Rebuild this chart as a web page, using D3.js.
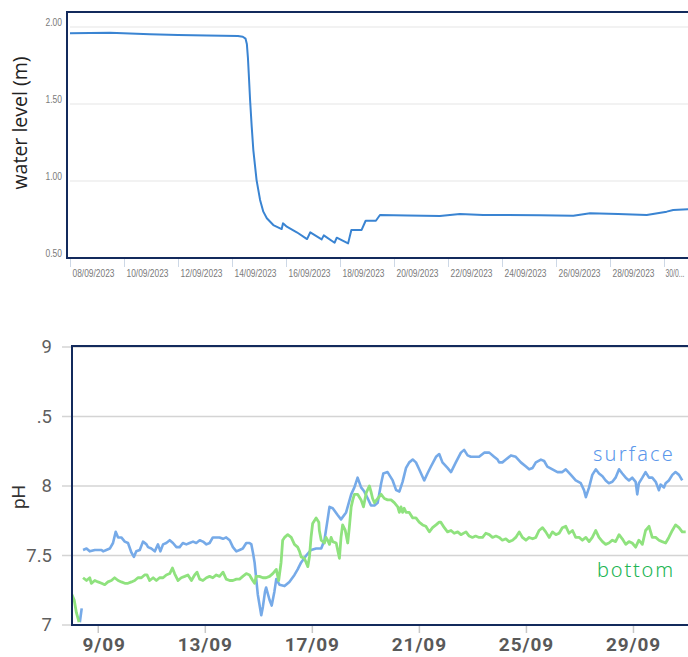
<!DOCTYPE html>
<html><head><meta charset="utf-8">
<script src="https://cdn.jsdelivr.net/npm/d3@7"></script>
<style>
html,body{margin:0;padding:0;background:#fff;}
svg{display:block;}
</style></head>
<body>
<svg id="c" width="688" height="657"></svg>
<script>
// ---------- DATA (day of September 2023, fractional) ----------
const waterDays  = [8.00,9.48,10.96,12.00,13.07,14.22,14.40,14.50,14.55,14.59,14.62,14.67,14.73,14.79,14.91,15.04,15.16,15.29,15.53,15.84,15.89,16.03,16.40,16.78,16.90,17.32,17.40,17.80,17.88,18.30,18.42,18.80,18.95,19.33,19.48,20.50,21.70,22.44,23.30,24.17,25.40,26.64,27.26,28.30,29.36,30.10,30.34,30.89];
const waterLevel = [1.959,1.963,1.953,1.948,1.944,1.942,1.937,1.925,1.890,1.800,1.700,1.526,1.353,1.201,1.006,0.877,0.801,0.758,0.714,0.688,0.725,0.703,0.667,0.623,0.667,0.621,0.647,0.599,0.632,0.595,0.682,0.682,0.742,0.742,0.779,0.776,0.773,0.786,0.780,0.779,0.777,0.775,0.790,0.785,0.779,0.801,0.812,0.816];
const waterTickLabels = ["08/09/2023","10/09/2023","12/09/2023","14/09/2023","16/09/2023","18/09/2023","20/09/2023","22/09/2023","24/09/2023","26/09/2023","28/09/2023","30/0..."];
const waterYTicks = [0.5,1.0,1.5,2.0];
const waterYLabels = ["0.50","1.00","1.50","2.00"];

const surfaceDays = [8.33,8.40,8.42,8.45,8.58,8.70,8.89,9.14,9.20,9.32,9.45,9.57,9.67,9.76,9.88,10.01,10.13,10.26,10.35,10.44,10.57,10.69,10.82,10.88,11.00,11.13,11.25,11.34,11.44,11.56,11.69,11.81,11.94,12.06,12.18,12.31,12.43,12.56,12.68,12.81,12.93,13.06,13.18,13.30,13.43,13.55,13.68,13.80,13.93,14.05,14.18,14.30,14.42,14.55,14.67,14.74,14.80,14.86,14.98,15.11,15.17,15.25,15.29,15.42,15.50,15.60,15.67,15.79,15.98,16.16,16.35,16.47,16.60,16.79,16.97,17.16,17.35,17.47,17.59,17.66,17.78,17.97,18.09,18.28,18.47,18.59,18.71,18.84,18.96,19.09,19.21,19.34,19.46,19.59,19.67,19.83,20.02,20.15,20.27,20.39,20.52,20.64,20.77,20.89,21.01,21.20,21.32,21.45,21.64,21.76,21.88,22.07,22.20,22.38,22.57,22.69,22.82,22.94,23.07,23.25,23.44,23.63,23.81,23.94,24.00,24.12,24.25,24.44,24.62,24.81,25.00,25.12,25.25,25.37,25.56,25.68,25.80,25.99,26.18,26.36,26.49,26.68,26.86,27.05,27.17,27.24,27.36,27.48,27.61,27.73,27.86,27.98,28.10,28.23,28.35,28.48,28.60,28.73,28.85,28.97,29.10,29.16,29.22,29.35,29.47,29.60,29.72,29.85,29.97,30.03,30.16,30.22,30.34,30.47,30.59,30.72,30.84];
const surfaceValues = [7.02,7.12,null,7.54,7.55,7.53,7.54,7.54,7.53,7.54,7.55,7.59,7.67,7.63,7.63,7.60,7.59,7.52,7.49,7.53,7.54,7.60,7.58,7.56,7.55,7.53,7.58,7.53,7.58,7.59,7.61,7.59,7.56,7.56,7.59,7.58,7.59,7.60,7.59,7.61,7.60,7.58,7.59,7.63,7.63,7.63,7.62,7.63,7.61,7.56,7.53,7.54,7.55,7.59,7.59,7.58,7.52,7.45,7.22,7.07,7.13,7.24,7.27,7.18,7.14,7.24,7.33,7.29,7.28,7.31,7.36,7.40,7.45,7.50,7.54,7.55,7.55,7.61,7.76,7.85,7.84,7.79,7.76,7.81,7.94,7.99,8.06,7.99,7.96,7.91,7.86,7.86,7.88,8.02,8.09,8.10,8.04,7.97,7.96,8.03,8.13,8.17,8.19,8.17,8.12,8.04,8.09,8.14,8.21,8.23,8.17,8.13,8.10,8.17,8.24,8.26,8.22,8.21,8.21,8.21,8.24,8.24,8.21,8.19,8.17,8.17,8.19,8.22,8.21,8.17,8.14,8.12,8.13,8.17,8.19,8.18,8.14,8.12,8.10,8.10,8.12,8.08,8.04,8.02,7.97,7.92,7.99,8.08,8.12,8.09,8.07,8.04,8.02,8.03,8.06,8.12,8.09,8.06,8.04,8.06,8.03,7.94,8.02,8.06,8.10,8.06,8.06,8.03,7.97,8.01,7.99,8.02,8.04,8.08,8.10,8.08,8.04];

const bottomDays = [8.03,8.12,8.20,8.30,8.40,8.45,8.58,8.70,8.76,8.89,9.01,9.14,9.26,9.38,9.51,9.63,9.76,9.88,10.01,10.13,10.26,10.38,10.50,10.63,10.75,10.84,10.94,11.07,11.19,11.31,11.44,11.56,11.69,11.79,11.87,12.00,12.12,12.25,12.37,12.50,12.62,12.71,12.81,12.93,13.06,13.18,13.30,13.43,13.55,13.68,13.80,13.93,14.05,14.18,14.30,14.42,14.55,14.67,14.79,14.86,14.92,15.04,15.17,15.29,15.42,15.54,15.67,15.76,15.85,15.91,15.98,16.10,16.23,16.35,16.47,16.54,16.60,16.72,16.85,16.91,16.97,17.03,17.16,17.26,17.28,17.35,17.47,17.53,17.59,17.66,17.72,17.78,17.91,18.03,18.09,18.15,18.25,18.34,18.40,18.47,18.53,18.59,18.71,18.84,18.93,19.03,19.15,19.21,19.27,19.34,19.46,19.59,19.71,19.83,19.96,20.08,20.21,20.27,20.33,20.39,20.45,20.52,20.64,20.77,20.89,21.01,21.14,21.26,21.39,21.51,21.64,21.76,21.82,21.95,22.07,22.20,22.32,22.45,22.57,22.76,22.88,23.00,23.12,23.25,23.38,23.50,23.63,23.75,23.88,24.00,24.12,24.25,24.37,24.50,24.62,24.75,24.87,25.00,25.12,25.25,25.37,25.49,25.62,25.74,25.87,25.99,26.12,26.24,26.36,26.49,26.61,26.74,26.86,26.99,27.11,27.24,27.36,27.48,27.61,27.73,27.86,27.98,28.10,28.23,28.35,28.48,28.60,28.73,28.85,28.97,29.10,29.22,29.35,29.47,29.60,29.72,29.85,29.97,30.09,30.22,30.34,30.47,30.59,30.72,30.84,30.97];
const bottomValues = [7.22,7.18,7.09,7.02,null,7.34,7.32,7.34,7.30,7.32,7.31,7.30,7.29,7.31,7.32,7.34,7.32,7.31,7.30,7.30,7.31,7.32,7.34,7.34,7.36,7.36,7.32,7.34,7.32,7.34,7.34,7.36,7.37,7.41,7.37,7.32,7.34,7.35,7.36,7.32,7.36,7.38,7.33,7.32,7.34,7.35,7.34,7.36,7.35,7.38,7.33,7.32,7.32,7.33,7.33,7.35,7.37,7.36,7.32,7.30,7.35,7.35,7.34,7.34,7.35,7.37,7.40,7.32,7.45,7.61,7.63,7.65,7.63,7.58,7.56,7.53,7.49,7.48,7.42,7.49,7.63,7.73,7.77,7.74,7.68,7.61,7.59,7.63,7.61,7.58,7.63,7.60,7.59,7.48,7.63,7.72,7.68,7.59,7.70,7.85,7.90,7.94,7.94,7.90,7.85,7.95,8.00,7.96,7.91,7.88,7.91,7.94,7.91,7.90,7.90,7.88,7.85,7.81,7.85,7.81,7.84,7.81,7.81,7.77,7.77,7.74,7.72,7.71,7.67,7.70,7.72,7.74,7.74,7.70,7.67,7.68,7.66,7.67,7.65,7.67,7.64,7.63,7.64,7.63,7.63,7.66,7.65,7.63,7.64,7.63,7.61,7.62,7.60,7.61,7.63,7.67,7.63,7.61,7.63,7.62,7.63,7.68,7.70,7.67,7.63,7.67,7.65,7.66,7.70,7.71,7.66,7.68,7.63,7.63,7.61,7.63,7.60,7.63,7.68,7.63,7.60,7.58,7.59,7.61,7.60,7.65,7.62,7.58,7.60,7.59,7.56,7.61,7.58,7.68,7.71,7.63,7.63,7.61,7.60,7.59,7.63,7.68,7.72,7.70,7.67,7.67];

const phYTicks = [7,7.5,8,8.5,9];
const phYLabels = ["7","7.5","8",".5","9"];
const phXTickDays = [9,13,17,21,25,29];
const phXLabels = ["09/09","13/09","17/09","21/09","25/09","29/09"];
const seriesNames = ["surface","bottom"];

// ---------- HELPERS ----------
const toDate = d => new Date(Date.UTC(2023,8,1) + (d-1)*864e5);
const zip = (xs, ys) => xs.map((x,i)=>({t:toDate(x), v:ys[i]}));
const svg = d3.select("#c");
const NAVY = "#132a5c";
const SMALL = "'Liberation Sans',Arial,sans-serif";

// ================= TOP CHART: water level =================
const xTop = d3.scaleUtc().domain([toDate(8), toDate(31)]).range([70, 691]);
const yTop = d3.scaleLinear().domain([0.5, 2.0]).range([258, 27]);
const gTop = svg.append("g");

gTop.append("g").selectAll("line").data([1.0,1.5,2.0]).join("line")
  .attr("x1",70).attr("x2",688).attr("y1",d=>yTop(d)).attr("y2",d=>yTop(d))
  .attr("stroke","#e6e6e6").attr("stroke-width",1.2);

const yAxTop = gTop.append("g").attr("transform","translate(67,0)")
  .call(d3.axisLeft(yTop).tickValues(waterYTicks).tickSize(0).tickPadding(5)
    .tickFormat((d,i)=>waterYLabels[i]));
yAxTop.select(".domain").remove();
yAxTop.selectAll("text").attr("dy","-0.2em")
  .attr("font-family",SMALL).attr("font-size",10).attr("fill","#7a7a7a")
  .attr("textLength",16.5).attr("lengthAdjust","spacingAndGlyphs");

const xAxTop = gTop.append("g").attr("transform","translate(0,259)")
  .call(d3.axisBottom(xTop).tickValues(d3.range(8,31,2).map(toDate)).tickSize(8)
    .tickFormat((d,i)=>waterTickLabels[i]));
xAxTop.select(".domain").remove();
xAxTop.selectAll("line").attr("stroke","#cdd8e6");
const lastTop = waterTickLabels.length-1;
xAxTop.selectAll("text").attr("text-anchor","start").attr("x",(d,i)=> i===lastTop ? 1 : 2).attr("y",11)
  .attr("font-family",SMALL).attr("font-size",10.5).attr("fill","#7a7a7a")
  .attr("textLength",(d,i)=> i===lastTop ? 19 : 42)
  .attr("lengthAdjust","spacingAndGlyphs");

gTop.append("path").datum(zip(waterDays, waterLevel))
  .attr("fill","none").attr("stroke","#3a84d2").attr("stroke-width",2).attr("stroke-linejoin","round")
  .attr("d", d3.line().x(d=>xTop(d.t)).y(d=>yTop(d.v)));

gTop.append("path").attr("d","M688,12 H67 V258 H688").attr("fill","none")
  .attr("stroke",NAVY).attr("stroke-width",2);

gTop.append("text").attr("transform","translate(27,123) rotate(-90)")
  .attr("text-anchor","middle").attr("font-family","'Open Sans',sans-serif")
  .attr("font-size",19.5).attr("fill","#222").text("water level (m)");

// ================= BOTTOM CHART: pH =================
const xPh = d3.scaleUtc().domain([toDate(8), toDate(31)]).range([71, 686.5]);
const yPh = d3.scaleLinear().domain([7, 9]).range([625, 347]);
const gBot = svg.append("g");

gBot.append("clipPath").attr("id","plotclip").append("rect")
  .attr("x",72).attr("y",346).attr("width",616).attr("height",279);
gBot.append("clipPath").attr("id","labclip").append("rect")
  .attr("x",82 - xPh(toDate(9))).attr("y",-10).attr("width",100).attr("height",42);

gBot.append("g").selectAll("line").data(phYTicks).join("line")
  .attr("x1",62).attr("x2",688).attr("y1",d=>yPh(d)).attr("y2",d=>yPh(d))
  .attr("stroke","#d4d4d4").attr("stroke-width",1.6);

const yAxPh = gBot.append("g").attr("transform","translate(62,0)")
  .call(d3.axisLeft(yPh).tickValues(phYTicks).tickSize(0).tickPadding(10)
    .tickFormat((d,i)=>phYLabels[i]));
yAxPh.select(".domain").remove();
yAxPh.selectAll("text").attr("font-family","Roboto,sans-serif")
  .attr("font-size",18.5).attr("fill","#5f5f5f");

const xAxPh = gBot.append("g").attr("transform","translate(0,625)")
  .call(d3.axisBottom(xPh).tickValues(phXTickDays.map(toDate)).tickSize(8).tickPadding(5)
    .tickFormat((d,i)=>phXLabels[i]));
xAxPh.select(".domain").remove();
xAxPh.selectAll("line").attr("stroke","#c8c8c8").attr("stroke-width",1.5);
xAxPh.selectAll("text").attr("font-family","Roboto,sans-serif").attr("font-weight","bold")
  .attr("font-size",19).attr("letter-spacing",0.9).attr("fill","#595959");
// first label is cut by the frame on the left, as in the source
xAxPh.selectAll("text").filter((d,i)=>i===0).attr("clip-path","url(#labclip)");

const phLine = d3.line().defined(d=>d.v!=null).x(d=>xPh(d.t)).y(d=>yPh(d.v));
const lines = gBot.append("g").attr("clip-path","url(#plotclip)");
lines.append("path").datum(zip(surfaceDays, surfaceValues))
  .attr("fill","none").attr("stroke","#76aae8").attr("stroke-width",2.6).attr("stroke-linejoin","round")
  .attr("d", phLine);
lines.append("path").datum(zip(bottomDays, bottomValues))
  .attr("fill","none").attr("stroke","#8fe27e").attr("stroke-width",2.8).attr("stroke-linejoin","round")
  .attr("d", phLine);

gBot.append("path").attr("d","M688,346 H72 V625 H688").attr("fill","none")
  .attr("stroke",NAVY).attr("stroke-width",2);

gBot.append("text").attr("transform","translate(25,497) rotate(-90)")
  .attr("text-anchor","middle").attr("font-family","Roboto,sans-serif")
  .attr("font-size",19).attr("fill","#333").text("pH");

gBot.append("text").attr("x",593).attr("y",461).attr("font-family","'Noto Sans',sans-serif")
  .attr("font-size",20).attr("font-weight",300).attr("letter-spacing",2.2).attr("fill","#5b97eb").text(seriesNames[0]);
gBot.append("text").attr("x",597).attr("y",577).attr("font-family","'Noto Sans',sans-serif")
  .attr("font-size",20).attr("font-weight",300).attr("letter-spacing",1.8).attr("fill","#21b553").text(seriesNames[1]);
</script>
</body></html>
